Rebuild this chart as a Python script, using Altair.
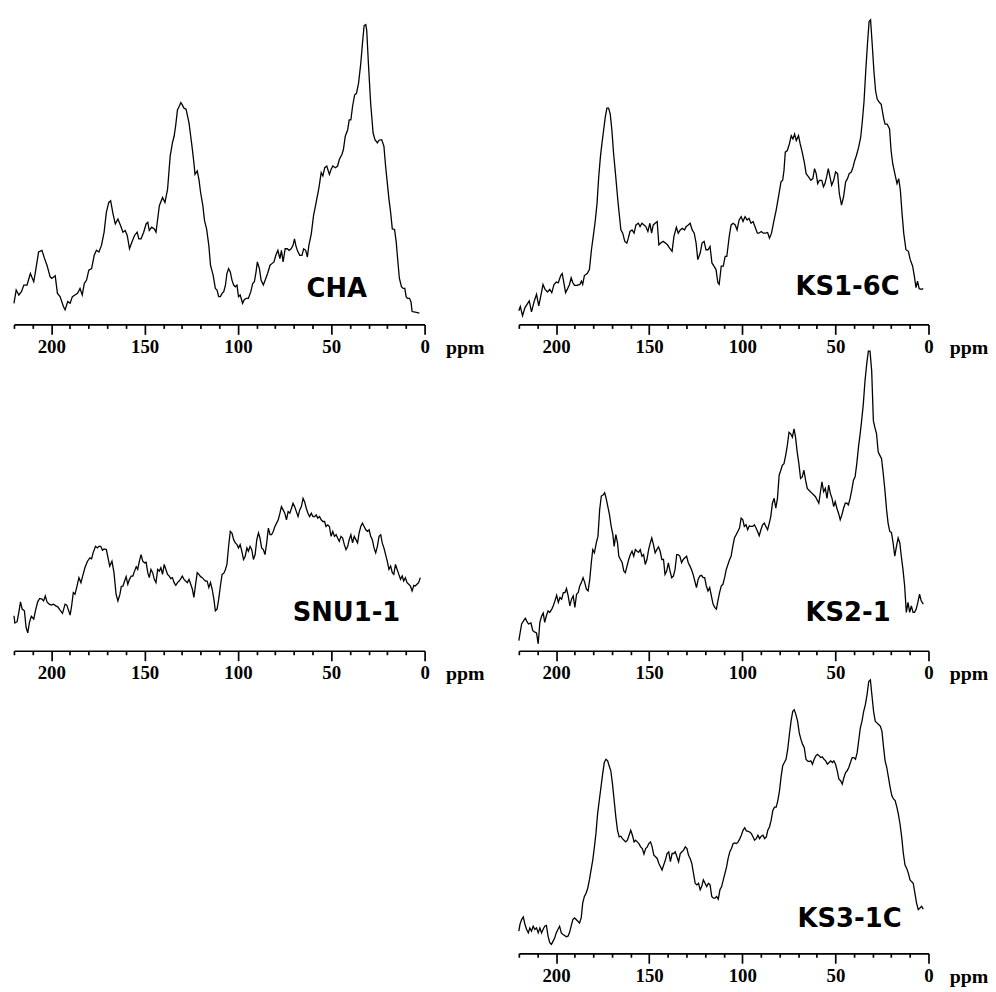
import altair as alt
import pandas as pd

# (chemical shift in ppm, signal intensity in arbitrary units)
CHA = [(220.0,21.3),(218.8,34.7),(217.4,29.7),(216.0,33.0),(214.7,39.7),(213.0,39.7),(211.2,51.3),(209.4,43.0),(208.5,53.0),(206.8,73.0),(205.0,74.7),(203.6,66.3),(202.3,59.7),(200.6,48.0),(199.7,46.3),(197.9,49.0),(196.7,31.3),(195.3,28.0),(193.5,18.0),(192.6,14.7),(191.2,23.0),(189.9,21.3),(188.7,28.0),(187.3,29.7),(185.9,31.3),(184.6,36.3),(183.4,29.7),(182.3,41.3),(181.1,44.7),(179.9,54.7),(178.4,56.3),(177.0,69.7),(175.8,74.7),(174.5,73.0),(173.1,79.7),(171.7,93.0),(170.5,113.0),(169.2,123.0),(168.2,124.7),(166.9,111.3),(165.7,101.3),(164.3,106.3),(162.9,99.7),(161.6,93.0),(160.4,94.7),(159.3,89.7),(158.1,76.3),(156.8,83.0),(155.4,89.7),(154.0,93.0),(153.1,86.3),(151.9,86.3),(150.5,93.0),(149.2,101.3),(148.3,103.0),(147.5,94.7),(146.2,98.0),(144.8,96.3),(143.9,93.0),(143.0,106.3),(142.1,119.7),(140.4,128.0),(139.1,123.0),(137.7,136.3),(136.3,169.7),(135.1,183.0),(134.2,189.7),(133.3,201.3),(132.4,216.3),(131.5,219.7),(130.6,223.7),(129.8,221.3),(128.9,218.0),(127.8,217.0),(126.2,203.0),(125.3,189.7),(124.4,176.3),(123.6,163.0),(123.0,151.3),(121.8,154.7),(120.9,146.3),(120.0,133.0),(118.8,119.7),(117.9,104.7),(116.8,96.3),(115.6,79.7),(114.7,59.7),(113.3,49.7),(112.1,36.3),(111.2,34.7),(110.3,28.0),(109.4,28.0),(108.5,31.3),(107.6,33.0),(106.7,39.7),(105.9,51.3),(105.0,56.3),(104.1,53.0),(103.2,44.7),(102.3,39.7),(101.4,38.0),(100.5,39.7),(99.7,28.0),(98.8,29.7),(97.5,21.3),(96.7,24.7),(95.6,26.3),(94.4,26.3),(93.1,33.0),(92.1,41.3),(91.2,43.0),(90.3,53.0),(89.6,63.0),(88.5,56.3),(87.6,44.7),(86.4,39.7),(85.1,46.3),(84.1,51.3),(82.8,59.7),(81.8,61.3),(80.7,63.0),(79.7,69.7),(78.6,74.7),(77.5,66.3),(76.7,74.7),(75.8,63.0),(74.7,76.3),(73.6,76.3),(72.6,74.7),(71.5,76.3),(70.5,79.7),(69.7,86.3),(69.0,79.7),(68.2,74.7),(66.9,69.7),(65.7,69.7),(64.8,76.3),(63.7,74.7),(62.8,68.0),(62.0,79.7),(60.7,91.3),(59.5,109.7),(58.1,123.0),(56.6,138.0),(55.4,153.0),(54.5,149.7),(53.5,158.0),(52.4,159.7),(51.0,151.3),(50.1,156.3),(49.2,159.7),(47.8,158.0),(46.6,159.7),(45.7,166.3),(44.3,171.3),(43.5,176.3),(42.5,189.7),(41.2,196.3),(40.4,206.3),(39.5,206.3),(38.6,219.7),(37.5,231.3),(36.5,233.0),(35.4,243.0),(34.2,263.0),(33.3,283.0),(32.4,301.3),(31.5,302.3),(31.0,296.3),(30.1,263.0),(28.9,223.0),(27.6,193.0),(26.6,186.3),(25.3,183.0),(24.4,185.7),(23.0,186.3),(21.8,179.7),(20.9,159.7),(20.0,143.0),(19.1,126.3),(18.2,113.0),(17.3,96.3),(16.1,95.7),(15.2,83.0),(14.3,63.0),(13.5,46.3),(12.4,38.0),(11.5,36.3),(10.6,36.3),(9.9,28.0),(9.2,26.3),(8.1,26.3),(7.3,23.0),(6.7,13.0),(5.0,12.3),(2.8,11.3)]

KS1_6C = [(220.0,13.7),(219.2,18.0),(218.0,8.7),(216.7,17.0),(215.6,20.3),(214.4,23.7),(213.2,12.7),(211.7,23.7),(210.5,30.3),(209.3,18.7),(208.2,28.7),(207.0,40.3),(205.9,35.3),(204.6,32.7),(203.4,35.3),(202.3,32.0),(201.1,40.3),(199.9,42.7),(198.8,42.0),(197.5,49.3),(196.7,51.3),(195.8,42.0),(194.9,32.0),(194.0,35.3),(192.8,40.3),(191.9,47.0),(191.0,42.0),(190.1,39.3),(188.7,39.3),(187.2,40.3),(186.4,43.7),(185.7,40.3),(184.8,49.3),(183.3,51.3),(182.1,55.3),(181.0,75.3),(179.8,92.0),(178.9,105.3),(178.0,122.0),(177.1,148.7),(176.2,168.7),(175.4,182.0),(174.5,195.3),(173.6,208.7),(172.7,218.0),(171.8,218.0),(170.9,212.0),(170.0,195.3),(169.1,172.0),(168.1,152.0),(167.0,128.7),(166.3,115.3),(165.2,95.3),(164.2,92.0),(163.1,83.7),(162.0,82.0),(161.2,87.0),(160.3,93.7),(159.2,95.3),(158.1,92.0),(157.1,100.3),(155.8,102.0),(154.9,98.7),(153.9,102.0),(152.8,100.3),(151.8,98.7),(150.7,93.7),(149.6,102.0),(148.7,92.0),(147.8,100.3),(146.8,102.0),(145.7,103.7),(144.8,80.3),(143.8,82.0),(142.5,83.7),(141.3,82.0),(140.2,80.3),(139.0,77.0),(137.7,73.7),(136.7,88.7),(135.4,98.0),(134.4,92.0),(133.3,95.3),(132.2,97.0),(131.0,95.3),(130.1,98.7),(129.0,100.3),(128.0,102.0),(126.9,95.3),(125.8,92.0),(124.8,82.0),(123.9,65.3),(122.6,72.0),(121.6,82.0),(120.5,83.7),(119.5,75.3),(118.4,75.3),(117.3,78.7),(116.3,62.0),(115.2,58.7),(114.1,55.3),(113.1,42.0),(112.4,40.3),(111.3,58.7),(110.2,58.7),(109.2,68.7),(108.3,68.7),(107.0,88.7),(106.0,100.3),(104.9,102.0),(103.8,100.3),(102.8,95.3),(101.7,105.3),(100.6,108.7),(99.6,103.7),(98.5,108.7),(97.4,105.3),(96.4,107.0),(95.3,102.0),(94.2,103.7),(93.2,98.7),(91.9,92.0),(91.1,92.0),(89.8,93.7),(88.7,92.0),(87.5,92.0),(86.4,92.7),(85.4,87.0),(84.3,92.0),(83.1,103.7),(81.8,115.3),(80.4,130.3),(79.2,143.7),(78.3,145.3),(77.6,155.3),(76.9,173.7),(75.8,175.3),(74.7,182.0),(73.7,190.3),(72.8,187.0),(71.9,192.0),(71.0,185.3),(69.8,190.3),(68.9,182.0),(68.0,175.3),(66.7,163.7),(65.7,152.0),(64.4,148.7),(63.2,145.3),(62.1,147.0),(61.2,157.0),(60.3,152.0),(59.5,142.0),(58.6,145.3),(57.3,145.3),(56.4,138.7),(55.6,142.0),(54.7,148.7),(53.8,157.0),(52.9,148.7),(52.0,140.3),(50.9,145.3),(49.9,153.7),(48.8,152.0),(47.9,132.0),(46.7,120.3),(45.6,128.7),(44.5,143.7),(43.5,147.0),(42.6,152.0),(41.4,153.7),(40.5,158.7),(39.6,165.3),(38.7,170.3),(37.5,178.7),(36.4,188.7),(35.5,205.3),(34.6,225.3),(33.7,255.3),(32.8,282.0),(31.9,305.3),(31.1,307.0),(30.2,282.0),(29.3,255.3),(28.4,235.3),(27.5,227.0),(26.3,223.7),(25.4,222.0),(24.0,207.0),(23.3,202.0),(22.2,202.0),(20.9,197.0),(20.1,175.3),(19.2,162.0),(17.7,148.7),(16.9,142.0),(16.0,147.0),(15.1,135.3),(14.2,112.0),(13.3,92.0),(12.1,75.3),(10.8,73.7),(9.8,65.3),(8.5,58.7),(7.6,48.7),(6.7,37.0),(5.9,43.7),(5.0,36.0),(3.7,35.3),(2.8,36.0)]

SNU1_1 = [(220.0,35.3),(219.5,28.0),(218.3,29.3),(217.4,38.7),(216.5,49.3),(215.6,42.0),(214.4,40.3),(213.5,23.7),(212.6,18.0),(211.7,28.7),(210.7,34.7),(209.4,32.0),(208.5,40.3),(207.3,49.3),(206.2,52.7),(205.0,52.0),(204.1,50.3),(203.2,55.3),(202.3,49.3),(201.1,47.0),(200.0,46.0),(198.8,47.0),(197.6,45.3),(196.5,44.3),(195.3,41.0),(194.0,37.7),(192.6,47.0),(191.7,46.0),(190.8,41.0),(189.9,36.0),(189.1,45.3),(188.2,58.7),(187.3,57.0),(186.4,63.7),(185.2,73.7),(184.1,68.7),(183.2,75.3),(182.0,83.7),(180.6,90.3),(179.3,93.7),(178.4,92.7),(177.6,98.7),(176.3,105.3),(175.3,103.7),(174.5,105.3),(173.5,105.3),(172.6,101.3),(171.7,102.7),(170.5,102.0),(169.6,93.7),(168.7,85.3),(167.5,90.3),(166.4,78.7),(165.3,57.0),(164.3,50.3),(163.2,57.0),(162.5,64.7),(161.6,65.3),(160.7,70.3),(159.9,74.7),(159.0,67.0),(158.1,72.0),(157.2,75.3),(156.3,75.3),(155.4,80.3),(154.5,84.7),(153.7,82.0),(152.8,90.3),(151.9,97.0),(151.0,90.3),(150.1,88.7),(149.2,89.3),(148.3,78.7),(147.5,73.7),(146.6,82.0),(145.7,78.7),(144.8,72.0),(143.9,68.7),(143.0,82.0),(142.1,80.3),(141.3,83.7),(140.4,77.0),(139.5,87.0),(138.6,82.0),(137.7,77.0),(136.8,75.3),(136.0,72.7),(135.1,73.7),(134.2,68.7),(133.3,66.0),(132.4,68.7),(131.5,70.3),(130.6,72.7),(129.8,75.3),(128.9,72.0),(128.0,70.3),(127.1,68.7),(126.2,72.0),(125.3,67.0),(124.4,62.0),(123.6,53.7),(122.7,67.0),(121.8,78.7),(120.9,77.0),(120.0,74.7),(119.1,73.7),(118.3,72.0),(117.4,70.3),(116.5,70.3),(115.6,63.7),(114.7,68.7),(113.8,62.0),(112.9,52.0),(112.1,40.3),(111.2,42.0),(110.3,52.0),(109.4,65.3),(108.5,77.0),(107.6,78.0),(106.7,82.0),(105.9,87.0),(105.0,105.3),(104.1,120.3),(103.2,118.7),(102.3,112.0),(101.4,108.7),(100.5,107.0),(99.7,103.7),(98.8,107.0),(97.9,100.3),(97.0,92.0),(96.1,95.3),(95.2,103.7),(94.4,100.3),(93.5,105.3),(92.6,102.0),(91.7,92.0),(90.8,97.0),(89.9,112.0),(89.0,118.7),(88.2,113.7),(87.3,103.7),(86.4,102.0),(85.5,97.0),(84.6,108.7),(83.7,123.7),(82.8,117.0),(82.0,117.0),(81.1,120.3),(80.2,125.3),(79.3,128.7),(78.4,132.0),(77.5,138.7),(76.7,145.3),(75.8,142.0),(74.9,138.7),(74.0,132.0),(73.1,140.3),(72.2,138.7),(71.3,143.7),(70.5,148.7),(69.6,145.3),(68.7,140.3),(67.8,135.3),(66.9,142.0),(66.0,145.3),(65.1,153.7),(64.3,150.3),(63.4,143.7),(62.5,138.7),(61.6,135.3),(60.7,138.7),(59.8,135.3),(58.9,135.3),(58.1,137.0),(57.2,133.7),(56.3,135.3),(55.4,132.0),(54.5,130.3),(53.6,130.3),(52.8,125.3),(51.9,127.0),(51.0,125.3),(50.1,115.3),(49.2,120.3),(48.3,115.3),(47.4,117.0),(46.6,113.7),(45.7,110.3),(44.8,115.3),(43.9,113.7),(43.0,107.0),(42.1,102.0),(41.2,105.3),(40.4,112.0),(39.5,117.0),(38.6,108.7),(37.7,115.3),(36.8,112.0),(35.9,108.7),(35.1,118.7),(34.2,125.3),(33.3,128.7),(32.4,125.3),(31.5,122.0),(30.6,120.3),(29.7,122.0),(28.9,115.3),(28.0,112.0),(27.1,103.7),(26.2,98.7),(25.3,105.3),(24.4,115.3),(23.5,117.0),(22.7,108.7),(21.8,103.7),(20.9,97.0),(20.0,90.3),(19.1,82.0),(18.2,85.3),(17.3,78.7),(16.5,77.0),(15.6,87.0),(14.7,82.0),(13.8,77.0),(12.9,72.0),(12.0,75.3),(11.2,70.3),(10.3,73.7),(9.4,68.7),(8.5,67.0),(7.6,65.3),(6.7,60.3),(5.8,66.0),(5.0,65.3),(4.1,67.0),(3.2,68.7),(2.3,73.7)]

KS2_1 = [(220.0,10.3),(219.4,17.0),(218.5,27.0),(217.4,30.3),(216.5,32.7),(215.6,29.3),(214.8,27.0),(213.5,28.0),(212.5,20.3),(211.4,18.7),(210.5,18.0),(209.6,7.0),(208.7,28.7),(207.8,34.7),(206.9,38.0),(206.1,28.7),(205.2,35.3),(204.3,40.3),(203.4,38.7),(202.3,42.0),(201.5,45.3),(200.6,50.3),(199.7,56.0),(198.8,48.7),(197.9,53.7),(197.0,52.0),(196.1,58.7),(195.2,58.7),(194.4,62.7),(193.5,55.3),(192.6,45.3),(191.7,52.0),(190.8,55.3),(189.9,43.7),(189.0,57.0),(188.1,58.7),(187.3,65.3),(186.4,68.7),(185.5,73.7),(184.6,68.7),(183.7,62.0),(182.8,60.3),(181.9,72.0),(181.0,90.3),(180.3,102.0),(179.4,98.7),(178.4,108.7),(177.5,115.3),(176.6,142.0),(175.7,156.0),(174.8,157.0),(173.9,159.3),(173.1,153.7),(172.2,145.3),(171.3,137.0),(170.4,125.3),(169.5,117.0),(168.8,105.3),(167.9,117.0),(167.0,108.7),(166.3,95.3),(165.4,92.0),(164.5,88.7),(163.6,80.3),(162.8,78.7),(161.9,85.3),(161.0,92.0),(160.1,97.0),(159.2,100.3),(158.3,95.3),(157.4,102.0),(156.5,100.3),(155.7,99.3),(154.8,102.0),(153.9,95.3),(153.0,97.0),(152.1,87.0),(151.2,92.0),(150.3,102.0),(149.4,108.7),(148.6,113.7),(147.7,107.0),(146.8,98.7),(145.9,102.0),(145.0,104.7),(144.1,100.3),(143.2,92.0),(142.3,92.0),(141.5,77.0),(140.6,80.3),(139.7,88.7),(138.8,80.3),(137.9,73.7),(137.0,75.3),(136.1,82.0),(135.2,97.0),(134.4,97.0),(133.5,95.3),(132.6,88.7),(131.7,92.0),(130.8,93.7),(129.9,95.3),(129.0,88.7),(128.1,85.3),(127.3,82.0),(126.4,77.0),(125.5,70.3),(124.6,63.7),(123.7,72.0),(122.8,75.3),(121.9,76.0),(121.0,73.7),(120.2,73.7),(119.3,65.3),(118.4,60.3),(117.5,63.7),(116.6,55.3),(115.7,47.0),(114.8,43.7),(113.9,42.0),(113.1,50.3),(112.2,58.7),(111.3,65.3),(110.4,67.0),(109.5,73.7),(108.6,82.0),(107.7,87.0),(106.8,92.0),(106.0,95.3),(105.1,105.3),(104.2,113.7),(103.3,117.0),(102.4,120.3),(101.5,123.7),(100.6,133.7),(99.7,132.0),(98.9,125.3),(98.0,127.0),(97.1,122.0),(96.2,126.0),(95.3,125.3),(94.4,125.3),(93.5,127.0),(92.6,123.7),(91.8,120.3),(90.9,116.0),(90.0,122.0),(89.1,127.0),(88.2,128.7),(87.3,125.3),(86.4,122.0),(85.5,128.7),(84.7,135.3),(83.8,148.7),(82.9,153.7),(82.0,143.7),(81.1,153.7),(80.2,177.0),(79.3,182.0),(78.5,187.0),(77.6,188.7),(76.7,197.0),(75.8,207.0),(74.9,220.3),(74.0,218.7),(73.1,215.3),(72.2,223.7),(71.4,215.3),(70.5,200.3),(69.6,188.7),(68.7,173.7),(67.8,175.3),(66.9,182.0),(66.0,172.0),(65.1,163.7),(64.3,162.0),(63.4,160.3),(62.5,158.7),(61.6,157.0),(60.7,155.3),(59.8,152.0),(58.9,148.7),(58.0,160.3),(57.2,170.3),(56.3,160.3),(55.4,163.7),(54.5,153.7),(53.6,167.0),(52.7,158.7),(51.8,153.7),(50.9,145.3),(50.1,150.3),(49.2,143.7),(48.3,138.7),(47.4,132.0),(46.5,137.0),(45.6,143.7),(44.7,148.7),(43.8,148.7),(43.0,147.0),(42.1,153.7),(41.2,162.0),(40.3,172.0),(39.4,175.3),(38.5,188.7),(37.6,205.3),(36.7,218.7),(35.9,232.0),(35.0,248.7),(34.1,272.0),(33.2,288.7),(32.3,302.0),(31.4,302.0),(30.5,282.0),(29.6,232.0),(28.8,225.3),(27.9,218.7),(27.0,200.3),(26.1,197.0),(25.2,193.7),(24.3,178.7),(23.4,162.0),(22.5,142.0),(21.7,128.7),(20.8,120.3),(19.9,119.3),(19.0,108.7),(18.1,95.3),(17.2,105.3),(16.3,113.7),(15.4,108.7),(14.6,95.3),(13.7,82.0),(12.8,65.3),(11.9,38.7),(11.0,48.7),(10.1,38.7),(9.2,45.3),(8.3,38.7),(7.5,38.7),(6.6,42.0),(5.7,48.7),(4.8,57.0),(3.9,50.3),(2.8,47.0)]

KS3_1C = [(220.0,22.3),(219.4,29.0),(218.5,34.0),(217.6,36.6),(216.7,29.0),(215.8,24.0),(214.9,20.6),(214.1,25.6),(213.2,22.3),(212.3,27.3),(211.4,24.0),(210.5,25.6),(209.6,20.6),(208.7,25.6),(207.8,20.6),(207.0,24.0),(206.1,27.3),(205.2,28.0),(204.3,17.3),(203.4,10.6),(202.5,9.0),(201.6,12.3),(200.7,15.6),(199.9,20.6),(199.0,24.0),(198.1,27.3),(197.2,20.6),(196.3,19.0),(195.4,18.0),(194.5,16.6),(193.6,17.3),(192.8,20.6),(191.9,27.3),(191.0,34.0),(190.1,35.6),(189.2,34.0),(188.3,32.3),(187.4,30.6),(186.5,35.6),(185.7,50.6),(184.8,57.3),(183.9,60.6),(183.0,65.6),(182.1,74.0),(181.2,84.0),(180.3,94.0),(179.4,107.3),(178.6,120.6),(177.7,140.6),(176.8,154.0),(175.9,167.3),(175.0,180.6),(174.1,192.3),(173.2,195.6),(172.3,194.0),(171.5,189.0),(170.6,184.0),(169.7,170.6),(168.8,154.0),(167.9,137.3),(167.0,124.0),(166.1,117.3),(165.2,118.0),(164.4,115.6),(163.5,114.0),(162.6,112.3),(161.7,114.0),(160.8,119.0),(159.9,124.0),(159.0,119.0),(158.1,112.3),(157.3,114.0),(156.4,112.3),(155.5,110.6),(154.6,107.3),(153.7,105.6),(152.8,100.0),(151.9,105.6),(151.0,107.3),(150.2,110.6),(149.3,112.3),(148.4,107.3),(147.5,99.0),(146.6,97.3),(145.7,95.6),(144.8,90.6),(143.9,87.3),(143.1,84.0),(142.2,89.0),(141.3,94.0),(140.4,100.6),(139.5,102.3),(138.6,92.3),(137.7,100.6),(136.8,100.6),(136.0,102.3),(135.1,97.3),(134.2,92.3),(133.3,100.6),(132.4,102.3),(131.5,104.0),(130.6,107.3),(129.7,105.6),(128.9,99.0),(128.0,95.6),(127.1,90.6),(126.2,80.6),(125.3,70.6),(124.4,69.0),(123.5,70.6),(122.6,64.0),(121.8,67.3),(120.9,74.0),(120.0,70.6),(119.1,67.3),(118.2,70.6),(117.3,69.0),(116.4,57.3),(115.5,55.6),(114.7,55.6),(113.8,57.3),(112.9,54.6),(112.0,64.0),(111.1,67.3),(110.2,74.0),(109.3,80.6),(108.4,87.3),(107.6,95.6),(106.7,102.3),(105.8,105.6),(104.9,110.6),(104.0,111.3),(103.1,110.6),(102.2,112.3),(101.3,115.6),(100.5,119.0),(99.6,124.0),(98.7,126.6),(97.8,123.3),(96.9,123.0),(96.0,122.3),(95.1,120.6),(94.2,117.3),(93.4,114.0),(92.5,115.6),(91.6,119.0),(90.7,115.6),(89.8,118.0),(88.9,119.0),(88.0,115.6),(87.1,117.3),(86.3,124.0),(85.4,127.3),(84.5,134.0),(83.6,144.0),(82.7,147.3),(81.8,147.3),(80.9,154.0),(80.0,164.0),(79.2,177.3),(78.3,189.0),(77.4,192.3),(76.5,195.6),(75.6,205.6),(74.7,220.6),(73.8,234.0),(72.9,244.0),(72.1,245.6),(71.2,240.6),(70.3,234.0),(69.4,222.3),(68.5,215.6),(67.6,210.6),(66.7,207.3),(65.8,195.6),(65.0,194.0),(64.1,193.3),(63.2,194.0),(62.3,190.6),(61.4,195.6),(60.5,199.0),(59.6,200.6),(58.7,199.0),(57.9,197.3),(57.0,198.0),(56.1,195.6),(55.2,194.0),(54.3,190.6),(53.4,192.3),(52.5,194.0),(51.6,192.3),(50.8,194.0),(49.9,190.6),(49.0,184.0),(48.1,175.6),(47.2,174.0),(46.3,170.6),(45.4,177.3),(44.5,182.3),(43.7,184.0),(42.8,187.3),(41.9,192.3),(41.0,197.3),(40.1,197.3),(39.2,195.6),(38.3,202.3),(37.5,214.0),(36.6,227.3),(35.7,234.0),(34.8,244.0),(33.9,250.6),(33.0,260.6),(32.1,274.0),(31.2,275.6),(30.4,260.6),(29.5,244.0),(28.6,234.0),(27.7,232.3),(26.8,230.6),(25.9,229.0),(25.0,224.0),(24.1,207.3),(23.3,194.0),(22.4,187.3),(21.5,177.3),(20.6,167.3),(19.7,159.0),(18.8,155.6),(17.9,154.0),(17.0,147.3),(16.2,140.6),(15.3,130.6),(14.4,117.3),(13.5,100.6),(12.6,89.0),(11.7,85.6),(10.8,80.6),(9.9,74.0),(9.1,72.3),(8.2,70.6),(7.3,60.6),(6.4,50.6),(5.5,44.0),(4.6,45.6),(3.7,47.3),(2.8,44.6)]

PANEL_NAMES = ["CHA", "KS1-6C", "SNU1-1", "KS2-1", "KS3-1C"]
TICK_VALUES = list(range(0, 221, 10))   # every 10 ppm; labelled every 50 ppm
X_DOMAIN = [0, 220]
AXIS_TITLE = "ppm"


def panel(name, series, width, height, label_x, label_baseline):
    df = pd.DataFrame(series, columns=["ppm", "intensity"])
    axis = alt.Axis(
        values=TICK_VALUES,
        tickSize={"condition": {"test": "datum.value % 50 === 0", "value": 10}, "value": 4},
        labelExpr="datum.value % 50 === 0 ? datum.label : ''",
        labelFont="Liberation Serif",
        labelFontWeight="bold",
        labelFontSize=19,
        labelColor="black",
        labelPadding=18,
        labelBaseline="alphabetic",
        labelFlush=False,
        labelOverlap=False,
        domainColor="black",
        domainWidth=1.7,
        tickColor="black",
        tickWidth=1.7,
        grid=False,
        title=AXIS_TITLE,
        titleFont="Liberation Serif",
        titleFontWeight="bold",
        titleFontSize=20,
        titleColor="black",
        titleAlign="left",
        titleBaseline="alphabetic",
        titleAngle=0,
        titleX=width + 21,
        titleY=29,
    )
    line = alt.Chart(df).mark_line(color="black", strokeWidth=1.3).encode(
        x=alt.X("ppm:Q", scale=alt.Scale(domain=X_DOMAIN, reverse=True, nice=False, zero=False), axis=axis),
        y=alt.Y("intensity:Q", scale=alt.Scale(domain=[0, height], nice=False, zero=False), axis=None),
    )
    text = alt.Chart(pd.DataFrame({"label": [name]})).mark_text(
        font="DejaVu Sans", fontWeight="bold", fontSize=26, color="black",
        align="left", baseline="alphabetic",
    ).encode(text="label:N", x=alt.value(label_x), y=alt.value(label_baseline))
    return alt.layer(line, text).properties(width=width, height=height)


blank = alt.Chart(pd.DataFrame({"label": [""]})).mark_text().encode(
    text="label:N", x=alt.value(0), y=alt.value(0)
).properties(width=414, height=285)

charts = [
    panel(PANEL_NAMES[0], CHA, 414, 313, 295, 285),
    panel(PANEL_NAMES[1], KS1_6C, 413, 313, 279, 283),
    panel(PANEL_NAMES[2], SNU1_1, 414, 309, 281, 279),
    panel(PANEL_NAMES[3], KS2_1, 413, 309, 289, 279),
    blank,
    panel(PANEL_NAMES[4], KS3_1C, 413, 285, 281, 258),
]

chart = alt.concat(
    *charts, columns=2, spacing={"row": 20, "column": 95}, bounds="flush", align="each"
).properties(
    padding={"left": 3, "top": 2, "right": 0, "bottom": 0},
    background="white",
).configure_view(stroke="transparent", strokeWidth=0)

chart.save("out.html", embed_options={"renderer": "svg", "actions": False})
